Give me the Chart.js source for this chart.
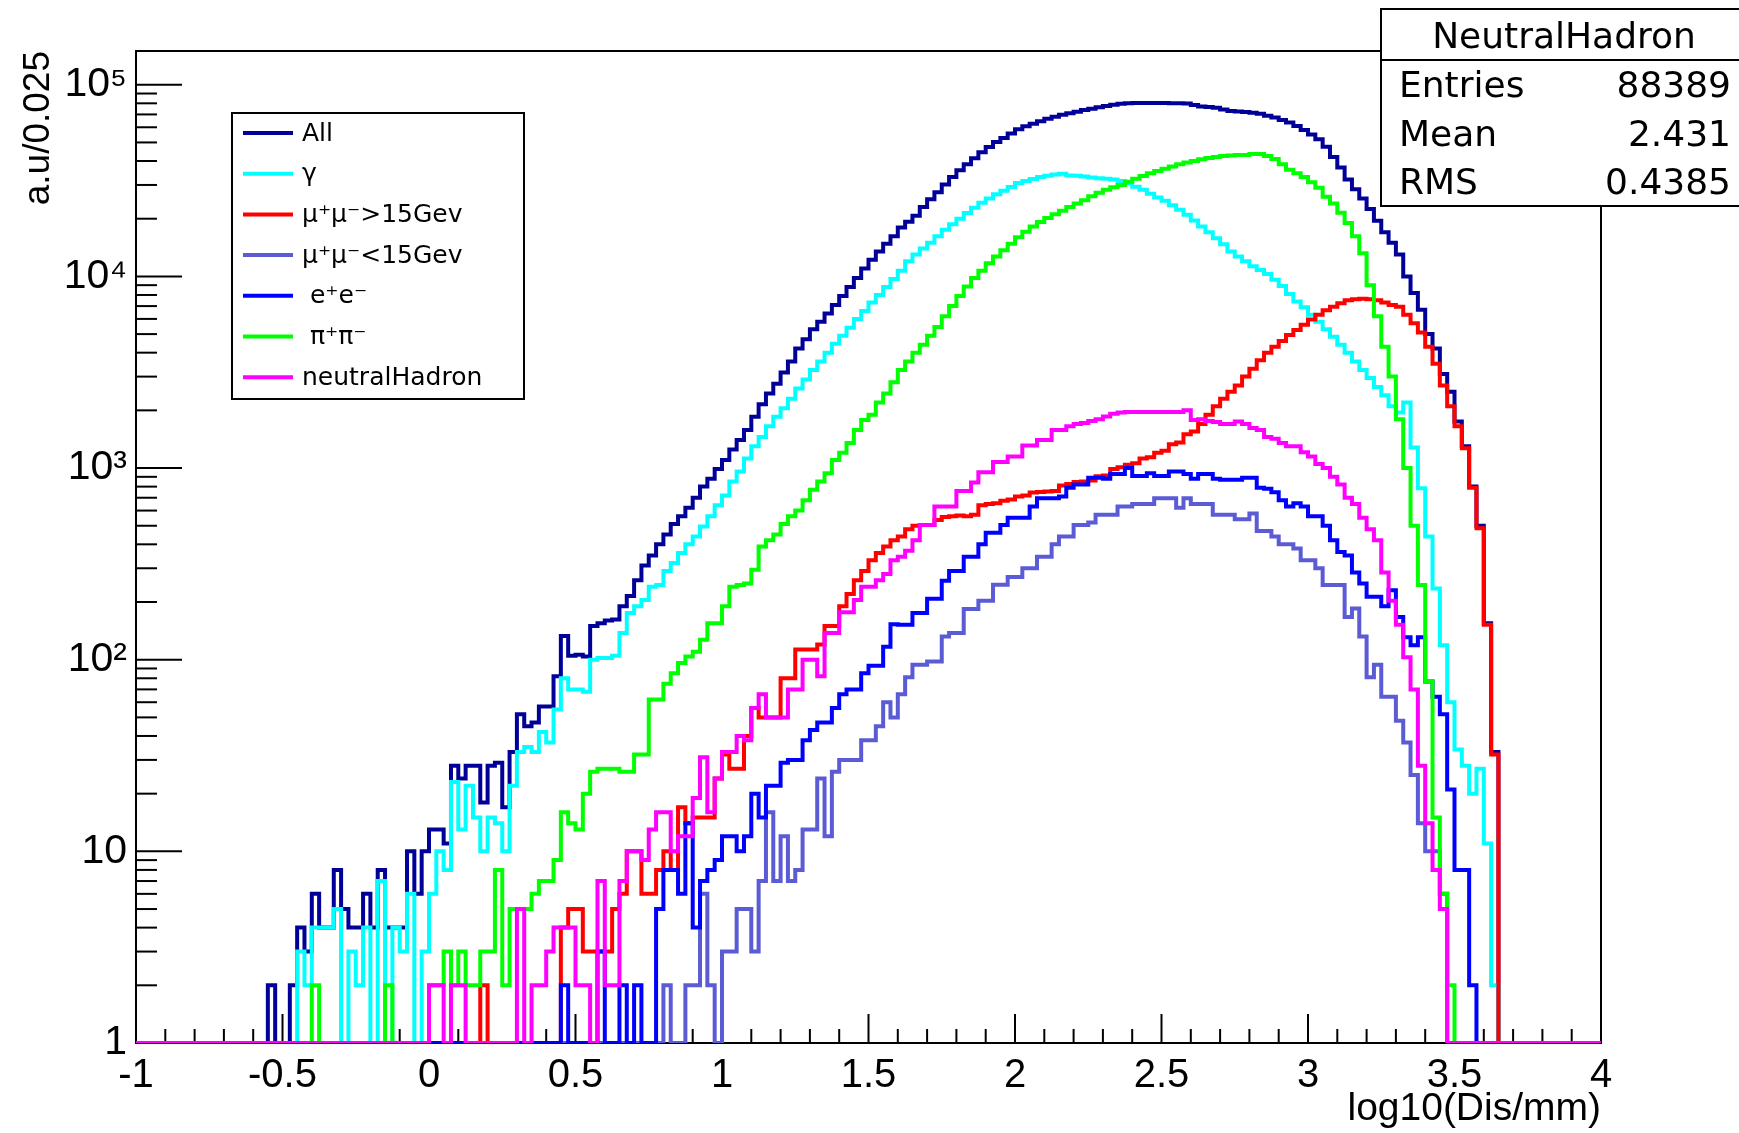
<!DOCTYPE html>
<html>
<head>
<meta charset="utf-8">
<script src="https://cdn.jsdelivr.net/npm/chart.js@4.4.1/dist/chart.umd.min.js"></script>
<style>
  html, body { margin: 0; padding: 0; background: #fff; }
  #wrap { width: 1739px; height: 1133px; position: relative; }
</style>
</head>
<body>
<div id="wrap"><canvas id="histo"></canvas></div>
<script>
// histogram binning: 200 bins of 0.025 from -1 to 4
const xMin = -1;
const binWidth = 0.025;
const nBins = 200;

// counts per bin, starting at the first filled bin of each series
const allStart = 18;
const allCounts = [
  2, 0, 0, 2, 4, 3, 6, 4, 4, 8,
  5, 4, 4, 6, 4, 8, 4, 4, 4, 10,
  6, 10, 13, 13, 11, 28, 24, 28, 28, 18,
  28, 29, 17, 33, 52, 45, 47, 57, 57, 82,
  133, 105, 106, 104, 150, 155, 160, 162, 190, 215,
  260, 310, 350, 400, 450, 510, 560, 620, 700, 800,
  880, 990, 1100, 1250, 1400, 1580, 1850, 2150, 2450, 2750,
  3150, 3600, 4200, 4700, 5300, 5800, 6400, 7100, 7900, 8800,
  9800, 11000, 12200, 13500, 14800, 16200, 18000, 19300, 20700, 23000,
  25300, 27500, 30200, 33000, 35800, 38500, 41300, 44500, 47300, 50200,
  52800, 55600, 58500, 60700, 62500, 64500, 66400, 68000, 69800, 71000,
  72400, 73800, 75000, 76300, 77400, 78600, 79500, 80000, 80200, 80300,
  80300, 80200, 80200, 80100, 80000, 79800, 78500, 77000, 76500, 75800,
  74200, 73000, 72500, 72000, 71500, 70500, 69000, 67500, 65500, 63500,
  61000, 58000, 55000, 52000, 47500, 42000, 37000, 32000, 28500, 25500,
  22500, 19500, 17000, 15000, 13000, 10000, 8200, 6700, 5000, 4200,
  3100, 2500, 1750, 1300, 800, 500, 155, 33
];

const gammaStart = 22;
const gammaCounts = [
  3, 2, 4, 4, 4, 5, 0, 3, 2, 4,
  0, 7, 0, 4, 3, 6, 0, 3, 6, 10,
  8, 23, 13, 22, 15, 10, 15, 14, 10, 22,
  33, 35, 33, 42, 37, 55, 80, 70, 70, 68,
  100, 102, 102, 105, 138, 175, 190, 205, 240, 245,
  290, 320, 360, 400, 440, 495, 560, 640, 720, 850,
  960, 1120, 1300, 1450, 1650, 1850, 2050, 2300, 2600, 2900,
  3250, 3600, 4000, 4450, 4900, 5400, 6000, 6600, 7300, 8000,
  8800, 9700, 10700, 12000, 13000, 14000, 15000, 16200, 17500, 18700,
  20000, 21400, 22800, 24200, 25500, 26800, 28000, 29300, 30700, 31500,
  32200, 33000, 33500, 34000, 34300, 33600, 33500, 33200, 32800, 32500,
  32300, 32000, 31500, 30500, 29400, 28300, 27000, 25800, 24800, 23500,
  22300, 21000, 19600, 18200, 17000, 15800, 14700, 13500, 12700, 12000,
  11300, 10800, 10300, 9600, 8900, 8100, 7400, 6900, 6300, 5800,
  5300, 4850, 4400, 4000, 3600, 3250, 2950, 2650, 2400, 2100,
  1950, 2200, 1280, 785, 440, 235, 119, 60, 34, 28,
  20, 27, 11, 2
];

const muHighStart = 47;
const muHighCounts = [
  2, 0, 0, 0, 0, 0, 0, 0, 0, 0,
  0, 4, 5, 5, 3, 3, 3, 3, 5, 6,
  10, 10, 6, 6, 8, 10, 8, 17, 14, 15,
  15, 15, 24, 32, 27, 27, 40, 56, 50, 50,
  50, 80, 80, 113, 113, 113, 120, 150, 150, 190,
  220, 260, 290, 330, 360, 390, 420, 440, 480, 500,
  505, 505, 535, 555, 560, 565, 560, 570, 640, 650,
  655, 675, 685, 710, 720, 745, 750, 755, 760, 810,
  825, 845, 850, 860, 905, 915, 990, 1010, 1040, 1060,
  1120, 1140, 1200, 1230, 1330, 1360, 1500, 1550, 1700, 1900,
  2100, 2300, 2500, 2700, 3000, 3300, 3650, 4000, 4300, 4600,
  4950, 5250, 5600, 5950, 6300, 6650, 6950, 7250, 7500, 7600,
  7650, 7600, 7500, 7300, 7100, 6950, 6300, 5700, 5100, 4300,
  3500, 2700, 2100, 1650, 1270, 790, 485, 152, 32
];

const muLowStart = 72;
const muLowCounts = [
  2, 0, 0, 2, 2, 6, 2, 0, 3, 3,
  5, 5, 3, 7, 16, 7, 12, 7, 8, 13,
  13, 24, 12, 26, 30, 30, 30, 38, 38, 45,
  60, 50, 66, 81, 94, 94, 98, 98, 132, 138,
  138, 184, 184, 203, 203, 246, 246, 270, 270, 300,
  300, 345, 345, 400, 440, 440, 505, 505, 520, 570,
  570, 570, 630, 630, 650, 650, 650, 695, 695, 695,
  620, 695, 650, 650, 650, 570, 570, 570, 540, 540,
  580, 470, 470, 440, 400, 400, 380, 330, 330, 300,
  245, 245, 245, 167, 185, 132, 81, 94, 64, 64,
  48, 37, 25, 14, 10, 10, 6
];

const eeStart = 58;
const eeCounts = [
  2, 0, 0, 0, 0, 3, 0, 0, 2, 0,
  2, 0, 0, 5, 8, 8, 6, 14, 4, 7,
  8, 9, 12, 12, 10, 12, 20, 15, 22, 22,
  29, 30, 30, 38, 43, 47, 47, 56, 66, 70,
  70, 85, 93, 93, 117, 153, 152, 152, 175, 175,
  208, 208, 258, 290, 290, 345, 345, 400, 460, 460,
  505, 550, 550, 550, 630, 695, 695, 695, 710, 790,
  820, 820, 890, 890, 880, 930, 930, 1000, 910, 910,
  940, 910, 910, 960, 960, 930, 880, 930, 930, 880,
  870, 870, 870, 890, 890, 790, 780, 748, 680, 630,
  655, 630, 560, 560, 500, 420, 365, 350, 285, 250,
  213, 213, 190, 230, 167, 131, 119, 131, 77, 64,
  52, 21, 8, 8, 2
];

const pipiStart = 24;
const pipiCounts = [
  2, 0, 0, 0, 0, 0, 0, 0, 0, 0,
  2, 0, 0, 0, 0, 0,
  2, 2, 3, 2, 3, 2, 2, 3, 3, 8,
  2, 5, 5, 5, 6, 7, 7, 9, 16, 14,
  13, 20, 26, 27, 27, 27, 26, 26, 32, 32,
  62, 62, 75, 85, 96, 104, 110, 127, 155, 155,
  190, 240, 245, 250, 295, 390, 420, 450, 510, 560,
  600, 680, 770, 850, 940, 1100, 1200, 1350, 1580, 1780,
  1900, 2200, 2450, 2800, 3250, 3600, 4000, 4400, 4900, 5450,
  6200, 7000, 7900, 8850, 9800, 10700, 11700, 12700, 13700, 14800,
  16000, 17100, 18200, 19200, 20200, 21100, 22000, 23000, 24000, 25000,
  26200, 27300, 28300, 29200, 30000, 31200, 32300, 33400, 34500, 35500,
  36500, 37500, 38500, 39300, 40000, 40800, 41500, 42000, 42500, 42800,
  43000, 43000, 43500, 43500, 42500, 41000, 38500, 36000, 34500, 33000,
  31000, 29000, 26000, 24000, 21500, 19000, 16200, 13200, 9000, 6200,
  4300, 3000, 1800, 1000, 500, 245, 77, 15, 6, 2
];

const hadronStart = 40;
const hadronCounts = [
  2, 2, 0, 2, 2, 0, 0, 0, 0, 0,
  0, 0, 5, 0, 2, 2, 3, 4, 4, 4,
  2, 2, 0, 7, 2, 2, 7, 10, 10, 9,
  13, 16, 16, 10, 12, 12, 19, 31, 16, 24,
  33, 33, 40, 38, 56, 66, 50, 50, 50, 70,
  70, 100, 100, 82, 138, 138, 177, 177, 205, 240,
  240, 260, 280, 330, 345, 370, 420, 505, 505, 630,
  630, 630, 760, 760, 840, 950, 950, 1075, 1075, 1150,
  1150, 1310, 1310, 1400, 1400, 1580, 1580, 1650, 1700, 1720,
  1760, 1800, 1860, 1920, 1950, 1960, 1960, 1960, 1960, 1960,
  1960, 1960, 1960, 2000, 1780, 1800, 1760, 1740, 1700, 1700,
  1750, 1700, 1620, 1580, 1450, 1420, 1350, 1300, 1300, 1210,
  1150, 1050, 1000, 900, 820, 700, 650, 550, 480, 420,
  285, 203, 152, 103, 70, 28, 14, 8, 5
];

const seriesNames = ["All", "\u03b3", "\u03bc\u207a\u03bc\u207b>15Gev", "\u03bc\u207a\u03bc\u207b<15Gev", " e\u207ae\u207b", " \u03c0\u207a\u03c0\u207b", "neutralHadron"];
const seriesColors = ["#000099", "#00ffff", "#ff0000", "#5b5bd6", "#0000ff", "#00ff00", "#ff00ff"];
const seriesStarts = [allStart, gammaStart, muHighStart, muLowStart, eeStart, pipiStart, hadronStart];
const seriesCounts = [allCounts, gammaCounts, muHighCounts, muLowCounts, eeCounts, pipiCounts, hadronCounts];

const yTickValues = [1, 10, 100, 1000, 10000, 100000];
const yTickLabels = ["1", "10", "10\u00b2", "10\u00b3", "10\u2074", "10\u2075"];

const xTitle = "log10(Dis/mm)";
const yTitle = "a.u/0.025";
const statsTitle = "NeutralHadron";
const statsRows = [["Entries", "88389"], ["Mean", "2.431"], ["RMS", "0.4385"]];

const tickFont = "'Liberation Sans', Arial, Helvetica, sans-serif";
const boxFont = "'DejaVu Sans', Verdana, sans-serif";

// step points: one per bin low edge, plus the closing edge at x = 4
function toPoints(start, counts) {
  const pts = [];
  for (let i = 0; i < nBins; i++) {
    let c = 0;
    if (i >= start && i < start + counts.length) c = counts[i - start];
    // empty bins sit on the frame floor like in ROOT
    pts.push({x: xMin + i * binWidth, y: Math.max(c, 1)});
  }
  pts.push({x: xMin + nBins * binWidth, y: pts[pts.length - 1].y});
  return pts;
}

const datasets = [];
for (let i = 0; i < seriesNames.length; i++) {
  datasets.push({
    label: seriesNames[i],
    data: toPoints(seriesStarts[i], seriesCounts[i]),
    borderColor: seriesColors[i],
    backgroundColor: seriesColors[i],
    borderWidth: 4,
    stepped: 'before',   // value of a point holds until the next bin edge
    pointRadius: 0,
    fill: false,
    order: seriesNames.length - i   // "All" at the back, neutralHadron on top
  });
}

function line(ctx, x1, y1, x2, y2) {
  ctx.beginPath();
  ctx.moveTo(x1, y1);
  ctx.lineTo(x2, y2);
  ctx.stroke();
}

// ROOT style frame, inner tick marks, legend, stats box and axis titles
const rootStyle = {
  id: 'rootStyle',
  beforeDatasetsDraw(chart) {
    const ctx = chart.ctx;
    const {left, right, top, bottom} = chart.chartArea;
    const xs = chart.scales.x;
    const ys = chart.scales.y;
    ctx.save();
    ctx.strokeStyle = '#000';
    ctx.lineWidth = 2;
    ctx.strokeRect(left, top, right - left, bottom - top);

    for (let d = 0; d <= 5; d++) {
      for (let m = 1; m <= 9; m++) {
        const v = m * Math.pow(10, d);
        if (v > ys.max) break;
        const y = ys.getPixelForValue(v);
        line(ctx, left, y, left + (m === 1 ? 46 : 21), y);
      }
    }
    for (let i = 0; i <= 50; i++) {
      const x = xs.getPixelForValue(xs.min + i * 0.1);
      line(ctx, x, bottom, x, bottom - (i % 5 === 0 ? 29 : 14));
    }
    ctx.restore();
  },
  afterDraw(chart) {
    const ctx = chart.ctx;
    const {right} = chart.chartArea;
    ctx.save();
    ctx.fillStyle = '#000';

    // axis titles
    ctx.font = "39px " + tickFont;
    ctx.textAlign = 'right';
    ctx.textBaseline = 'middle';
    ctx.fillText(xTitle, right, 1109);

    ctx.save();
    ctx.translate(39, 51);
    ctx.rotate(-Math.PI / 2);
    ctx.font = "37px " + tickFont;
    ctx.textAlign = 'right';
    ctx.fillText(yTitle, 0, 0);
    ctx.restore();

    // legend
    const lx = 232, ly = 113, lw = 292, lh = 286;
    ctx.fillStyle = '#fff';
    ctx.fillRect(lx, ly, lw, lh);
    ctx.strokeStyle = '#000';
    ctx.lineWidth = 2;
    ctx.strokeRect(lx, ly, lw, lh);
    ctx.font = "25px " + boxFont;
    ctx.textAlign = 'left';
    ctx.textBaseline = 'middle';
    chart.data.datasets.forEach((ds, i) => {
      const y = 133 + i * 40.7;
      ctx.strokeStyle = ds.borderColor;
      ctx.lineWidth = 4;
      line(ctx, 243, y, 293, y);
      ctx.fillStyle = '#000';
      ctx.fillText(ds.label, 302, y + 1);
    });

    // stats box
    const sx = 1381, sy = 9, sw = 370, sh = 197;
    ctx.fillStyle = '#fff';
    ctx.fillRect(sx, sy, sw, sh);
    ctx.strokeStyle = '#000';
    ctx.lineWidth = 2;
    ctx.strokeRect(sx, sy, sw, sh);
    line(ctx, sx, 60, sx + sw, 60);
    ctx.fillStyle = '#000';
    ctx.font = "36px " + boxFont;
    ctx.textAlign = 'center';
    ctx.fillText(statsTitle, 1564, 39);
    statsRows.forEach((row, i) => {
      const y = 88 + i * 48.5;
      ctx.textAlign = 'left';
      ctx.fillText(row[0], 1399, y);
      ctx.textAlign = 'right';
      ctx.fillText(row[1], 1731, y);
    });
    ctx.restore();
  }
};

new Chart(document.getElementById('histo'), {
  type: 'line',
  data: { datasets: datasets },
  options: {
    responsive: true,
    maintainAspectRatio: false,
    devicePixelRatio: 1,
    animation: false,
    layout: { padding: { left: 0, right: 138, top: 51, bottom: 0 } },
    plugins: {
      legend: { display: false },
      tooltip: { enabled: false }
    },
    scales: {
      x: {
        type: 'linear',
        min: -1,
        max: 4,
        grid: { display: false, drawTicks: false },
        border: { display: false },
        ticks: {
          stepSize: 0.5,
          autoSkip: false,
          maxRotation: 0,
          padding: 9,
          color: '#000',
          font: { family: tickFont, size: 40 },
          callback: (v) => String(Math.round(v * 10) / 10)
        },
        afterFit: (s) => { s.height = 90; }
      },
      y: {
        type: 'logarithmic',
        min: 1,
        max: 150000,
        grid: { display: false, drawTicks: false },
        border: { display: false },
        ticks: {
          padding: 9,
          color: '#000',
          font: { family: tickFont, size: 41 },
          callback: (v) => {
            const k = yTickValues.indexOf(v);
            return k >= 0 ? yTickLabels[k] : '';
          }
        },
        afterBuildTicks: (s) => { s.ticks = yTickValues.map(v => ({value: v})); },
        afterFit: (s) => { s.width = 136; }
      }
    }
  },
  plugins: [rootStyle]
});
</script>
</body>
</html>
